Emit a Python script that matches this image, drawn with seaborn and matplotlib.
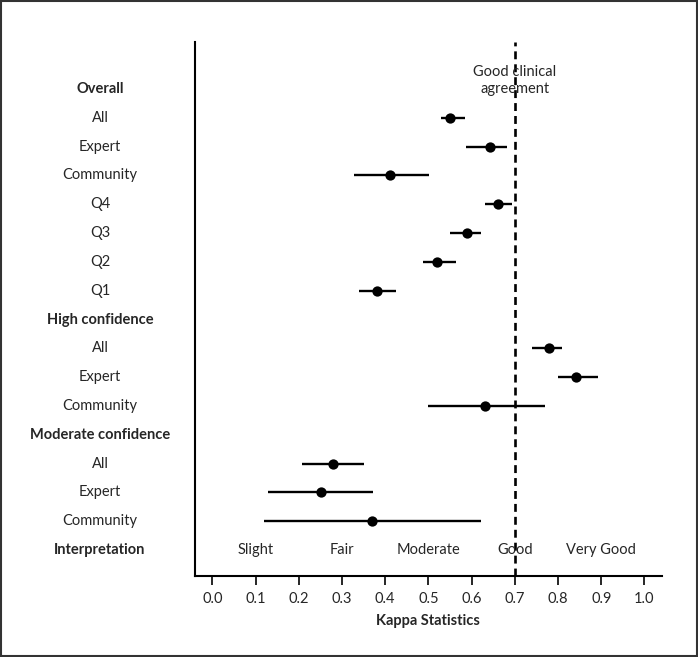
import numpy as np
import pandas as pd
import matplotlib.pyplot as plt
import seaborn as sns

# Rows of the forest plot, top to bottom
row_labels = ['Overall', 'All', 'Expert', 'Community', 'Q4', 'Q3', 'Q2', 'Q1',
              'High confidence', 'All', 'Expert', 'Community',
              'Moderate confidence', 'All', 'Expert', 'Community', 'Interpretation']
header_rows = ['Overall', 'High confidence', 'Moderate confidence', 'Interpretation']

# Kappa estimates and 95% CI (NaN for header rows)
kappa = [np.nan, 0.551, 0.642, 0.412, 0.660, 0.589, 0.521, 0.380,
         np.nan, 0.780, 0.841, 0.632,
         np.nan, 0.280, 0.252, 0.369, np.nan]
ci_low = [np.nan, 0.530, 0.587, 0.328, 0.630, 0.549, 0.488, 0.340,
          np.nan, 0.740, 0.800, 0.499,
          np.nan, 0.208, 0.130, 0.120, np.nan]
ci_high = [np.nan, 0.584, 0.683, 0.502, 0.694, 0.622, 0.563, 0.425,
           np.nan, 0.810, 0.892, 0.771,
           np.nan, 0.352, 0.371, 0.622, np.nan]

interp_labels = ['Slight', 'Fair', 'Moderate', 'Good', 'Very Good']
interp_pos = [0.1, 0.3, 0.5, 0.7, 0.9]
threshold = 0.7

df = pd.DataFrame({'label': row_labels, 'kappa': kappa,
                   'lo': ci_low, 'hi': ci_high})
df['row'] = np.arange(len(df))

sns.set_style('ticks')
plt.rcParams['font.family'] = ['Lato', 'DejaVu Sans']

fig = plt.figure(figsize=(6.98, 6.57), dpi=100)
ax = fig.add_axes([0.2794, 0.1233, 0.6686, 0.8127])

pts = df.dropna(subset=['kappa'])
ax.hlines(pts['row'], pts['lo'], pts['hi'], color='black', lw=1.7, zorder=2)
sns.scatterplot(x='kappa', y='row', data=pts, color='black', s=55,
                edgecolor='black', linewidth=0, zorder=3, ax=ax)

ax.axvline(threshold, color='black', lw=1.9, ls=(0, (3.0, 1.9)), zorder=1)
ax.text(threshold, -0.3, 'Good clinical\nagreement', ha='center', va='center',
        fontsize=10.5, linespacing=1.25)

# Row labels to the left of the axis
for i, lab in enumerate(row_labels):
    ax.text(-0.2036, i, lab, transform=ax.get_yaxis_transform(),
            ha='center', va='center', fontsize=10.5,
            fontweight='bold' if lab in header_rows else 'normal')

# Interpretation band labels
for x, lab in zip(interp_pos, interp_labels):
    ax.text(x, len(row_labels) - 1, lab, ha='center', va='center', fontsize=10.5)

ax.set_xlim(-0.04, 1.04)
ax.set_ylim(16.9, -1.63)
ax.set_xticks(np.arange(0, 1.01, 0.1))
ax.set_xticklabels([f'{t:.1f}' for t in np.arange(0, 1.01, 0.1)], fontsize=10.5)
ax.set_yticks([])
ax.set_ylabel('')
ax.set_xlabel('Kappa Statistics', fontsize=10.5, fontweight='bold', labelpad=6)
ax.tick_params(axis='x', direction='out', length=6.5, width=1.4, pad=5)
sns.despine(ax=ax, top=True, right=True)
for side in ['left', 'bottom']:
    ax.spines[side].set_linewidth(1.5)
    ax.spines[side].set_color('black')

# Outer frame around the whole figure
fig.patches.append(plt.Rectangle((0.002, 0.002), 0.996, 0.996, transform=fig.transFigure,
                                 fill=False, edgecolor='#333333', lw=1.5))

plt.savefig('out.png', dpi=100)
